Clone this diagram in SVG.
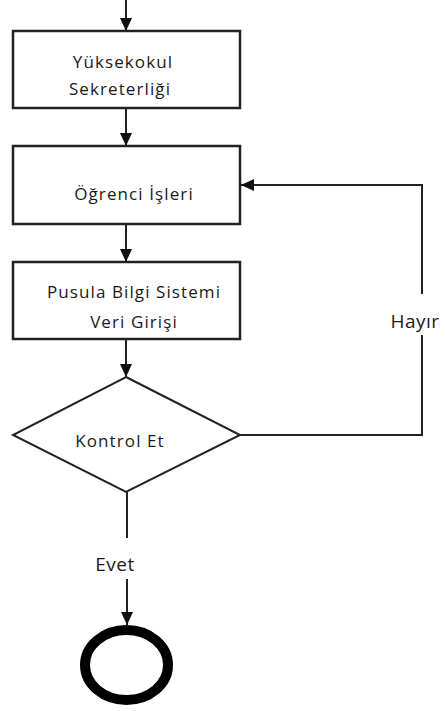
<svg xmlns="http://www.w3.org/2000/svg" width="445" height="711" viewBox="0 0 445 711">
<style>
.box{fill:#fff;stroke:#222;stroke-width:2.5}
.dia{fill:#fff;stroke:#222;stroke-width:2}
.ln{fill:none;stroke:#222;stroke-width:2}
.t{font-family:"Open Sans","Liberation Sans",sans-serif;font-size:17px;fill:#1a1a1a;text-anchor:middle;letter-spacing:1.1px}
.lbl{font-family:"Open Sans","Liberation Sans",sans-serif;font-size:19px;fill:#1a1a1a;text-anchor:middle;letter-spacing:0.5px}
</style>
<defs>
<marker id="ah" viewBox="0 0 13 12" refX="13" refY="6" markerWidth="13" markerHeight="12" markerUnits="userSpaceOnUse" orient="auto">
<path d="M0,0 L13,6 L0,12 Z" fill="#111"/>
</marker>
</defs>
<g id="connectors">
<line class="ln" x1="126" y1="0" x2="126" y2="31" marker-end="url(#ah)"/>
<line class="ln" x1="126" y1="108" x2="126" y2="146" marker-end="url(#ah)"/>
<line class="ln" x1="126" y1="224" x2="126" y2="262" marker-end="url(#ah)"/>
<line class="ln" x1="126" y1="339" x2="126" y2="377" marker-end="url(#ah)"/>
<line class="ln" x1="127" y1="492" x2="127" y2="538"/>
<line class="ln" x1="127" y1="579" x2="127" y2="625" marker-end="url(#ah)"/>
<polyline class="ln" points="240,435 422,435 422,335"/>
<polyline class="ln" points="422,294 422,185 241,185" marker-end="url(#ah)"/>
<text class="lbl" x="415" y="328">Hayır</text>
<text class="lbl" x="115" y="571">Evet</text>
</g>
<g id="n1">
<rect class="box" x="13" y="31" width="227" height="77"/>
<text class="t" x="123" y="68">Yüksekokul</text>
<text class="t" x="120" y="95">Sekreterliği</text>
</g>
<g id="n2">
<rect class="box" x="13" y="146" width="227" height="78"/>
<text class="t" x="134" y="200">Öğrenci İşleri</text>
</g>
<g id="n3">
<rect class="box" x="13" y="262" width="227" height="77"/>
<text class="t" x="134" y="298">Pusula Bilgi Sistemi</text>
<text class="t" x="134" y="328">Veri Girişi</text>
</g>
<g id="n4">
<polygon class="dia" points="126,377 240,435 126,492 13,435"/>
<text class="t" x="120" y="447">Kontrol Et</text>
</g>
<g id="n5">
<ellipse cx="126.5" cy="665" rx="41.5" ry="35" fill="#fff" stroke="#000" stroke-width="10"/>
</g>
</svg>
